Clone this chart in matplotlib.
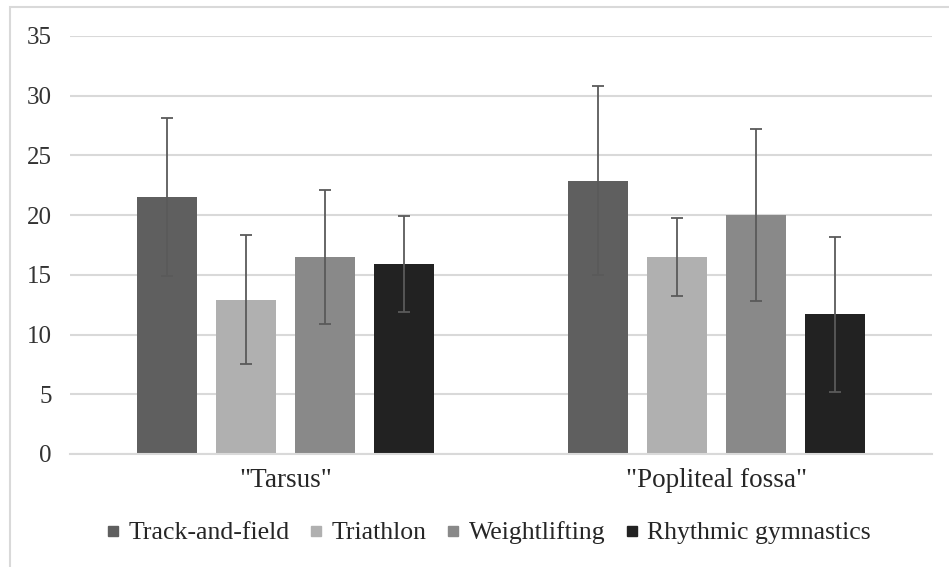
import matplotlib
matplotlib.use("Agg")
import matplotlib.pyplot as plt
import numpy as np
from matplotlib.lines import Line2D
from matplotlib.patches import Rectangle

plt.rcParams['font.family'] = ['Liberation Serif', 'DejaVu Serif']

# data
categories = ['"Tarsus"', '"Popliteal fossa"']
sports = ['Track-and-field', 'Triathlon', 'Weightlifting', 'Rhythmic gymnastics']
means = {
    'Track-and-field': [21.5, 22.9],
    'Triathlon': [12.9, 16.5],
    'Weightlifting': [16.5, 20.0],
    'Rhythmic gymnastics': [15.9, 11.7],
}
errors = {
    'Track-and-field': [6.6, 7.9],
    'Triathlon': [5.4, 3.3],
    'Weightlifting': [5.6, 7.2],
    'Rhythmic gymnastics': [4.05, 6.5],
}
colors = ['#5f5f5f', '#b0b0b0', '#898989', '#222222']
y_ticks = [0, 5, 10, 15, 20, 25, 30, 35]

fig = plt.figure(figsize=(9.49, 5.67), dpi=100)
ax = fig.add_axes([70 / 949, 1 - 454 / 567, 862 / 949, 418 / 567])

x = np.arange(len(categories))
step = 0.1826
width = 0.139
offsets = (np.arange(len(sports)) - 1.5) * step

for i, sport in enumerate(sports):
    ax.bar(x + offsets[i], means[sport], width, color=colors[i], zorder=2,
           label=sport)
    ax.errorbar(x + offsets[i], means[sport], yerr=errors[sport], fmt='none',
                ecolor='#5a5a5a', elinewidth=1.3, capsize=4, capthick=1.3,
                zorder=3)

ax.set_xlim(-0.5, 1.5)
ax.set_ylim(0, 35)
ax.set_yticks(y_ticks)
ax.set_xticks(x)
ax.set_xticklabels(categories, fontsize=19.5, color='#262626')
ax.tick_params(axis='y', labelsize=18, colors='#333333', length=0, pad=13)
ax.tick_params(axis='x', length=0, pad=10)
ax.grid(axis='y', color='#d9d9d9', linewidth=1.5, zorder=0)
ax.set_axisbelow(True)
for side in ['top', 'right', 'left']:
    ax.spines[side].set_visible(False)
ax.spines['bottom'].set_color('#d9d9d9')
ax.spines['bottom'].set_linewidth(1.5)

# legend with small square markers
handles = [Line2D([], [], marker='s', linestyle='none', markersize=7,
                  markerfacecolor=c, markeredgecolor=c) for c in colors]
fig.legend(handles, sports, loc='center', bbox_to_anchor=(489 / 949, 1 - 533 / 567),
           ncol=4, frameon=False, fontsize=18.5, handlelength=0.5,
           handletextpad=0.35, columnspacing=0.78, labelcolor='#262626')

# outer chart frame (only left and top visible)
fig.patches.append(Rectangle((10 / 949, -0.1), 1.2, 1 - 7 / 567 + 0.1,
                             transform=fig.transFigure, fill=False,
                             edgecolor='#d9d9d9', linewidth=1.5))

fig.savefig('out.png', dpi=100)
